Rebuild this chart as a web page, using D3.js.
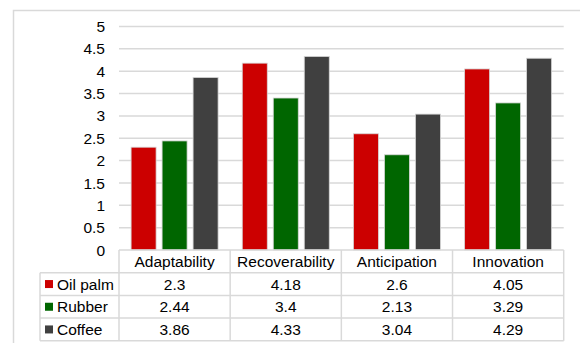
<!DOCTYPE html>
<html>
<head>
<meta charset="utf-8">
<script src="https://cdn.jsdelivr.net/npm/d3@7"></script>
<style>
  html, body { margin: 0; padding: 0; background: #fff; }
  svg { display: block; font-family: "Liberation Sans", Arial, sans-serif; }
</style>
</head>
<body>
<svg id="chart" width="580" height="343"></svg>
<script>
// Resilience dimensions and scores per crop
const categories = ["Adaptability", "Recoverability", "Anticipation", "Innovation"];
const seriesNames = ["Oil palm", "Rubber", "Coffee"];
const oilPalm = [2.3, 4.18, 2.6, 4.05];
const rubber = [2.44, 3.4, 2.13, 3.29];
const coffee = [3.86, 4.33, 3.04, 4.29];
const seriesColors = ["#cc0000", "#006600", "#404040"];
const yTicks = [0, 0.5, 1, 1.5, 2, 2.5, 3, 3.5, 4, 4.5, 5];

const seriesValues = [oilPalm, rubber, coffee];

const svg = d3.select("#chart");
const gridColor = "#d9d9d9";
const fontSize = 15.5;

// Outer frame
svg.append("rect")
  .attr("x", 13.5).attr("y", 10.5)
  .attr("width", 600).attr("height", 340)
  .attr("fill", "none").attr("stroke", gridColor).attr("stroke-width", 1.5);

const plotLeft = 119, plotRight = 563.7, plotTop = 26.5, plotBottom = 250;

const y = d3.scaleLinear().domain([0, 5]).range([plotBottom, plotTop]);
const x = d3.scaleBand().domain(categories).range([plotLeft, plotRight]).padding(0);
const xs = d3.scaleBand().domain(seriesNames).range([0, x.bandwidth()])
  .paddingInner(6 / 31).paddingOuter(0.39);

// Horizontal gridlines
svg.append("g").selectAll("line")
  .data(yTicks.filter(t => t > 0))
  .join("line")
  .attr("x1", plotLeft).attr("x2", plotRight)
  .attr("y1", d => y(d)).attr("y2", d => y(d))
  .attr("stroke", gridColor).attr("stroke-width", 1.5);

// Y axis labels
svg.append("g").selectAll("text")
  .data(yTicks)
  .join("text")
  .attr("x", 105).attr("y", d => y(d))
  .attr("dy", "0.36em")
  .attr("text-anchor", "end")
  .attr("font-size", fontSize)
  .attr("fill", "#000")
  .text(d => d);

// Bars
const groups = svg.append("g").selectAll("g")
  .data(categories)
  .join("g")
  .attr("transform", d => `translate(${x(d)},0)`);

groups.selectAll("rect")
  .data((c, ci) => seriesNames.map((s, si) => ({ s, si, v: seriesValues[si][ci] })))
  .join("rect")
  .attr("x", d => xs(d.s))
  .attr("width", xs.bandwidth())
  .attr("y", d => y(d.v))
  .attr("height", d => y(0) - y(d.v))
  .attr("fill", d => seriesColors[d.si])
  .attr("stroke", "#d6d6d6").attr("stroke-width", 0.8);

// Data table below the plot
const rowTop = plotBottom;
const rowH = 22.7;
const tableLeft = 40;
const table = svg.append("g");

// Horizontal table rules
table.append("line")
  .attr("x1", plotLeft).attr("x2", plotRight)
  .attr("y1", rowTop).attr("y2", rowTop)
  .attr("stroke", gridColor).attr("stroke-width", 1.5);
d3.range(1, 5).forEach(i => {
  table.append("line")
    .attr("x1", tableLeft).attr("x2", plotRight)
    .attr("y1", rowTop + i * rowH).attr("y2", rowTop + i * rowH)
    .attr("stroke", gridColor).attr("stroke-width", 1.5);
});
// Vertical table rules
table.append("line")
  .attr("x1", tableLeft).attr("x2", tableLeft)
  .attr("y1", rowTop + rowH).attr("y2", rowTop + 4 * rowH)
  .attr("stroke", gridColor).attr("stroke-width", 1.5);
[plotLeft, ...categories.map(c => x(c) + x.bandwidth())].forEach(xv => {
  table.append("line")
    .attr("x1", xv).attr("x2", xv)
    .attr("y1", rowTop).attr("y2", rowTop + 4 * rowH)
    .attr("stroke", gridColor).attr("stroke-width", 1.5);
});

// Header: category names
table.selectAll("text.cat")
  .data(categories)
  .join("text")
  .attr("class", "cat")
  .attr("x", d => x(d) + x.bandwidth() / 2)
  .attr("y", rowTop + rowH / 2)
  .attr("dy", "0.36em")
  .attr("text-anchor", "middle")
  .attr("font-size", fontSize)
  .text(d => d);

// Series rows: legend key, name and values
seriesNames.forEach((s, si) => {
  const cy = rowTop + (si + 1.5) * rowH;
  table.append("rect")
    .attr("x", 45).attr("y", cy - 4)
    .attr("width", 8).attr("height", 8)
    .attr("fill", seriesColors[si]);
  table.append("text")
    .attr("x", 57).attr("y", cy).attr("dy", "0.36em")
    .attr("font-size", fontSize)
    .text(s);
  table.selectAll(null)
    .data(seriesValues[si])
    .join("text")
    .attr("x", (d, ci) => x(categories[ci]) + x.bandwidth() / 2)
    .attr("y", cy).attr("dy", "0.36em")
    .attr("text-anchor", "middle")
    .attr("font-size", fontSize)
    .text(d => d);
});
</script>
</body>
</html>
